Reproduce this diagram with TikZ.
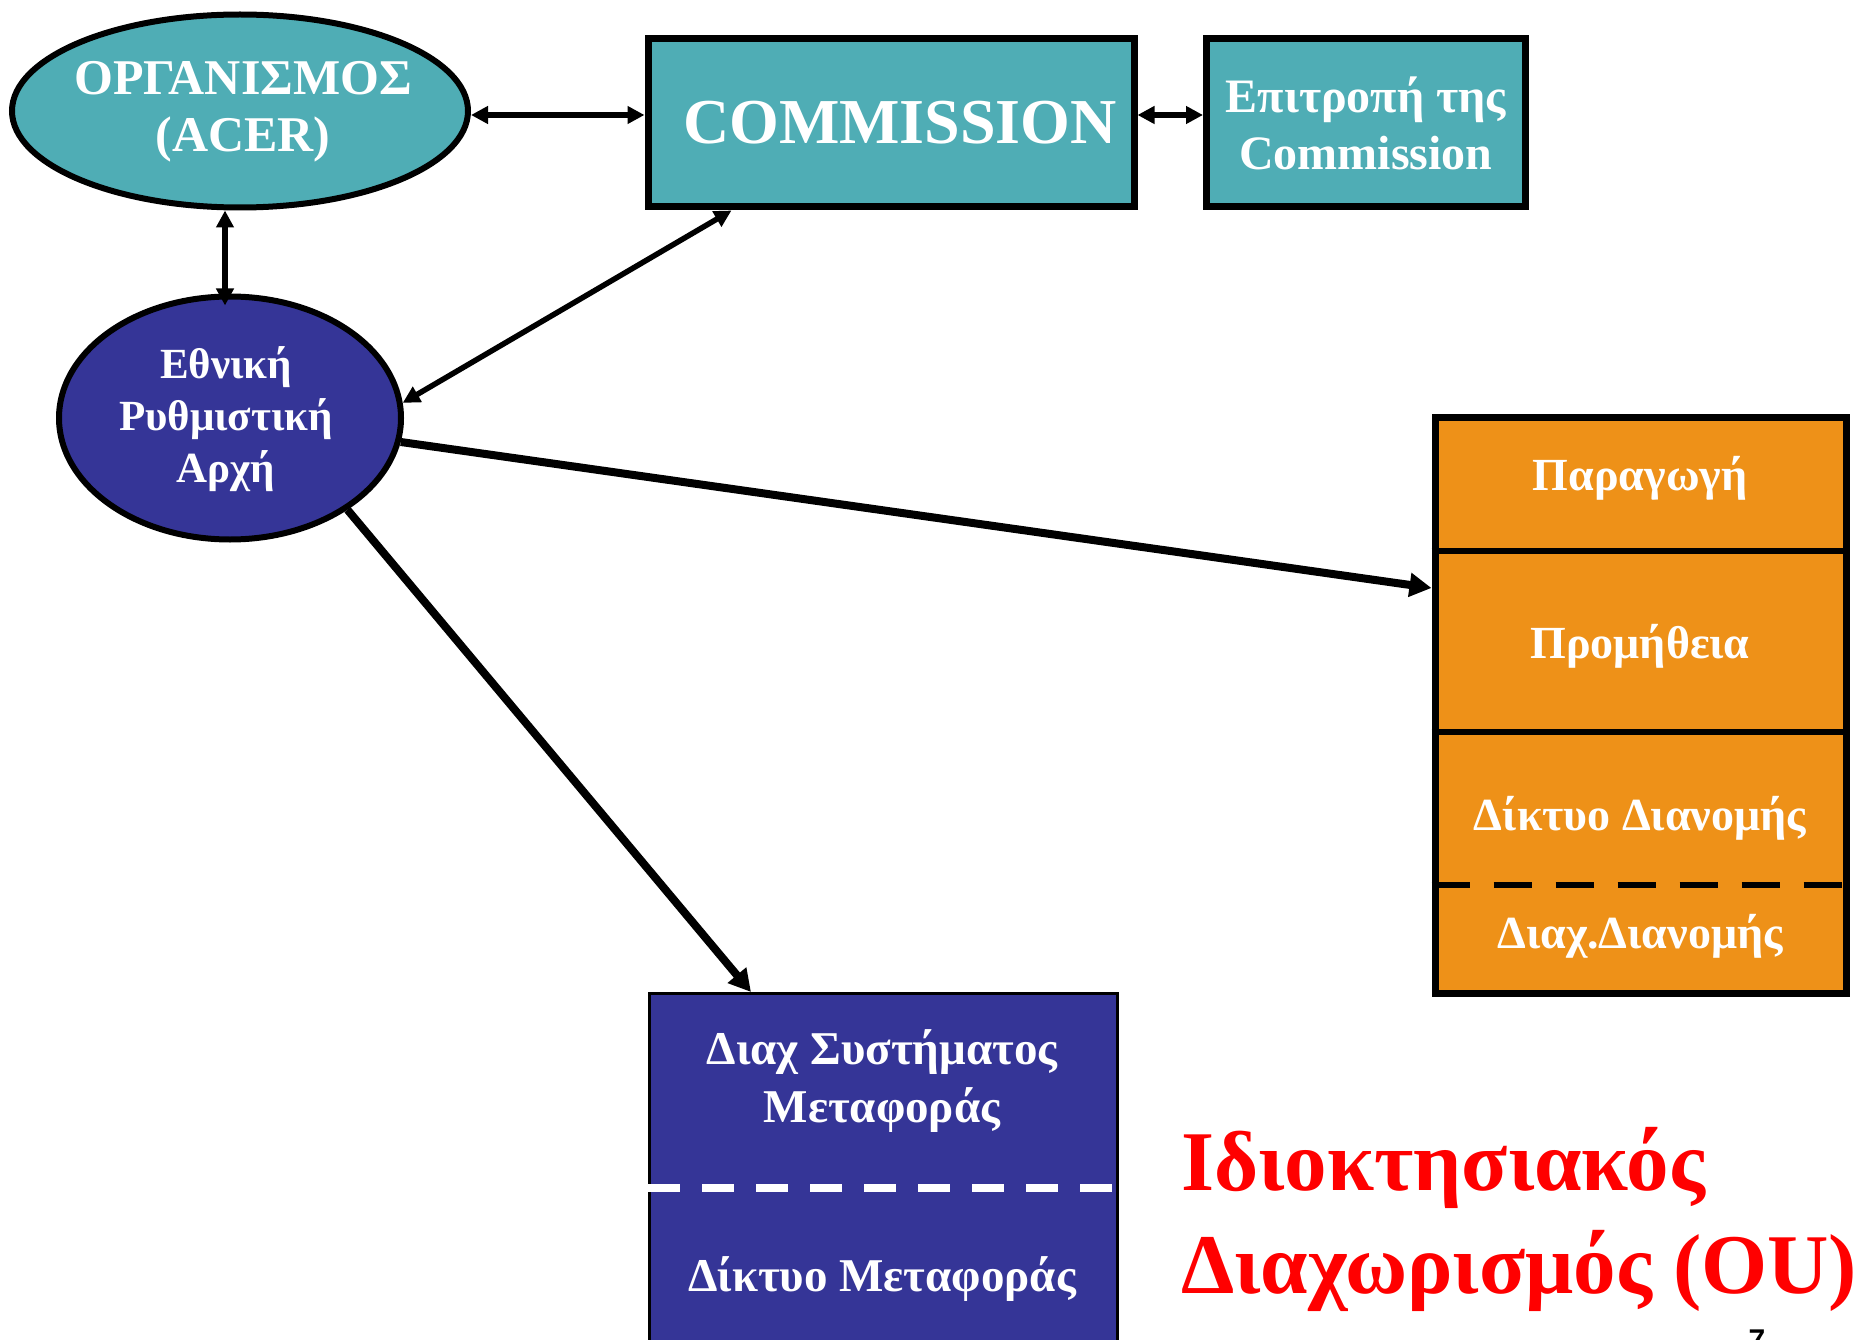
\documentclass[tikz,border=0pt]{standalone}
\usepackage{fontspec}
\setmainfont{Liberation Serif}
\setsansfont{Liberation Sans}
\usetikzlibrary{shapes.geometric,arrows.meta,calc}
\definecolor{tealA}{HTML}{4FADB5}
\definecolor{navyA}{HTML}{353597}
\definecolor{orangeA}{HTML}{EE9118}
\definecolor{redA}{HTML}{FF0000}
\begin{document}
\begin{tikzpicture}[x=1pt,y=-1pt,
  lbl/.style={text=white,align=center},
  fs/.style={font=\fontsize{#1}{#1}\selectfont\bfseries},
  both/.style={line width=5.5pt,{Triangle[length=17pt,width=17pt]}-{Triangle[length=17pt,width=17pt]}},
  oneway/.style={line width=8pt,-{Triangle[length=22pt,width=23pt]}},
  sepline/.style={line width=6pt},
]
\useasboundingbox (0,0) rectangle (1858,1340);

% ACER ellipse
\node[ellipse,draw,line width=6pt,fill=tealA,minimum width=456pt,minimum height=193pt,inner sep=0pt] (acer) at (240,111) {};
\node[lbl,font=\fontsize{50}{57}\selectfont\bfseries] (acert) at (243,112) {ΟΡΓΑΝΙΣΜΟΣ\\(ACER)};

% COMMISSION
\node[draw,line width=7pt,fill=tealA,minimum width=486pt,minimum height=168pt,inner sep=0pt,
      lbl,font=\fontsize{64}{70}\selectfont\bfseries] (comm) at (891,123) {\hspace*{18pt}COMMISSION};

% Epitropi
\node[draw,line width=7pt,fill=tealA,minimum width=319pt,minimum height=168pt,inner sep=0pt,
      lbl,font=\fontsize{48}{57}\selectfont\bfseries] (epi) at (1366,123) {Επιτροπή της\\Commission};

% NRA ellipse
\node[ellipse,draw,line width=6pt,fill=navyA,minimum width=342pt,minimum height=243pt,inner sep=0pt] (nra) at (230,418) {};
\node[lbl,font=\fontsize{43}{52}\selectfont\bfseries] (nrat) at (226,419) {Εθνική\\Ρυθμιστική\\Αρχή};

% Orange stack
\node[draw,line width=7pt,fill=orangeA,minimum width=411pt,minimum height=576pt,inner sep=0pt] (orange) at (1640.5,705) {};
\coordinate (odiv1) at (orange.west |- 0,551);
\coordinate (odiv2) at (orange.west |- 0,732);
\coordinate (odiv3) at (orange.west |- 0,885);
\draw[sepline] (odiv1) -- (odiv1 -| orange.east);
\draw[sepline] (odiv2) -- (odiv2 -| orange.east);
\draw[sepline,dash pattern=on 38pt off 24pt] (odiv3) -- (odiv3 -| orange.east);
\node[lbl,fs=46] (para) at (1640,478) {Παραγωγή};
\node[lbl,fs=46] (prom) at (1640,646) {Προμήθεια};
\node[lbl,fs=46] (dikt) at (1640,818) {Δίκτυο Διανομής};
\node[lbl,fs=46] (diax) at (1640,936) {Διαχ.Διανομής};

% Blue box
\node[draw,line width=2.5pt,fill=navyA,minimum width=468pt,minimum height=360pt,inner sep=0pt,anchor=north west] (blue) at (648,992) {};
\coordinate (bdiv) at (blue.west |- 0,1188);
\draw[white,line width=8pt,dash pattern=on 32pt off 22pt] (bdiv) -- (bdiv -| blue.east);
\node[lbl,font=\fontsize{47}{58}\selectfont\bfseries] (tso) at (882,1081) {Διαχ Συστήματος\\Μεταφοράς};
\node[lbl,fs=47] (trans) at (882,1279) {Δίκτυο Μεταφοράς};

% Red title
\node[text=redA,fs=85,anchor=base west,inner sep=0pt] (ou1) at (1181,1190) {Ιδιοκτησιακός};
\node[text=redA,fs=85,anchor=base west,inner sep=0pt] (ou2) at (1181,1293) {Διαχωρισμός (OU)};

% page number (cut)
\node[font=\sffamily\bfseries\fontsize{30}{30}\selectfont,anchor=north,inner sep=0pt] (pg) at (1757,1330) {7};

% connectors
\draw[both] ([yshift=-4pt]acer.east) -- ([yshift=-4pt]acer.east -| comm.west);
\draw[both] ([yshift=8pt]comm.east) -- ([yshift=8pt]epi.west);
\draw[both] ([xshift=-5pt,yshift=-12pt]nra.north) -- ([xshift=-5pt]nra.north |- acer.south);
\draw[both] ([xshift=87pt]comm.south west) -- (nra.5);
\draw[oneway] (nra.-8) -- ([yshift=58pt]prom.west -| orange.west);
\draw[oneway] (nra.-38) -- ([xshift=103pt]blue.north west);
\end{tikzpicture}
\end{document}
